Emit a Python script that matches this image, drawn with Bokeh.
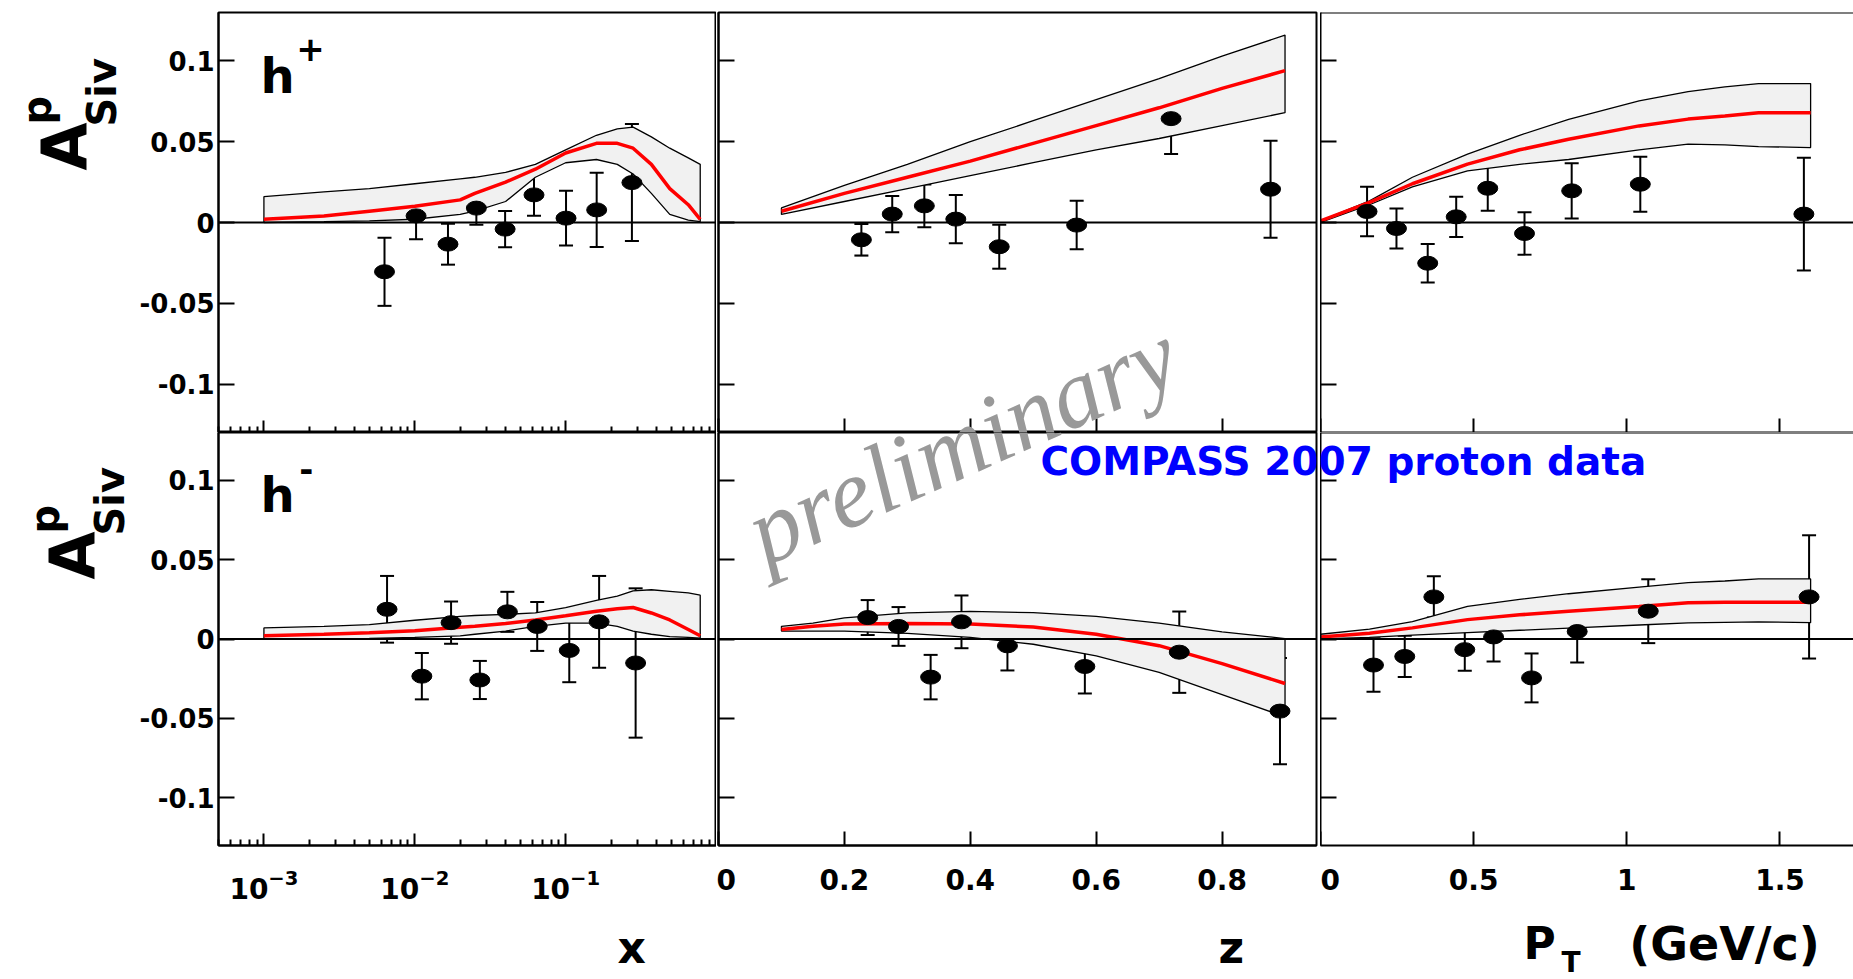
import math

from bokeh.plotting import figure
from bokeh.layouts import column, row
from bokeh.models import (ColumnDataSource, Range1d, FixedTicker, Span, Label,
                          Whisker, TeeHead, CustomJSTickFormatter)
from bokeh.embed import file_html
from bokeh.resources import INLINE

# ---------------------------------------------------------------------------
# Sivers asymmetry on a proton target, COMPASS 2007 (preliminary)
# ---------------------------------------------------------------------------

# h+ versus x
hp_x_bin = [0.0063, 0.0102, 0.0166, 0.0256, 0.0397, 0.0617, 0.1006, 0.1606, 0.275]
hp_x_asym = [-0.0305, 0.0041, -0.0134, 0.0089, -0.0041, 0.0171, 0.0027, 0.0078, 0.0247]
hp_x_err = [0.0211, 0.0144, 0.0127, 0.0103, 0.0112, 0.0129, 0.0170, 0.0230, 0.0362]

# h+ versus z
hp_z_bin = [0.227, 0.276, 0.327, 0.377, 0.446, 0.569, 0.719, 0.877]
hp_z_asym = [-0.0107, 0.0052, 0.0103, 0.0021, -0.0150, -0.0016, 0.0643, 0.0206]
hp_z_err = [0.0098, 0.0112, 0.0132, 0.0150, 0.0136, 0.0150, 0.0219, 0.0300]

# h+ versus PT
hp_pt_bin = [0.152, 0.248, 0.350, 0.443, 0.546, 0.666, 0.820, 1.044, 1.578]
hp_pt_asym = [0.0068, -0.0037, -0.0252, 0.0035, 0.0212, -0.0068, 0.0196, 0.0237, 0.0052]
hp_pt_err = [0.0153, 0.0124, 0.0119, 0.0124, 0.0140, 0.0131, 0.0171, 0.0170, 0.0349]

# h- versus x
hm_x_bin = [0.00655, 0.01114, 0.0174, 0.0270, 0.0411, 0.0648, 0.1057, 0.1667, 0.291]
hm_x_asym = [0.0187, -0.0234, 0.0103, -0.0258, 0.0171, 0.0079, -0.0072, 0.0108, -0.0151]
hm_x_err = [0.0210, 0.0146, 0.0133, 0.0120, 0.0126, 0.0154, 0.0200, 0.0289, 0.0470]

# h- versus z
hm_z_bin = [0.237, 0.286, 0.337, 0.386, 0.459, 0.582, 0.732, 0.892]
hm_z_asym = [0.0135, 0.0079, -0.0240, 0.0108, -0.0043, -0.0173, -0.0083, -0.0454]
hm_z_err = [0.0110, 0.0122, 0.0140, 0.0166, 0.0155, 0.0170, 0.0256, 0.0334]

# h- versus PT
hm_pt_bin = [0.173, 0.275, 0.370, 0.471, 0.565, 0.689, 0.838, 1.070, 1.595]
hm_pt_asym = [-0.0164, -0.0110, 0.0265, -0.0067, 0.0013, -0.0245, 0.0047, 0.0175, 0.0265]
hm_pt_err = [0.0168, 0.0130, 0.0130, 0.0133, 0.0154, 0.0154, 0.0195, 0.0201, 0.0388]

# Model predictions: central value and uncertainty band
x_grid = [0.001, 0.0025, 0.005, 0.01, 0.02, 0.025, 0.04, 0.063, 0.1, 0.16,
          0.22, 0.28, 0.37, 0.49, 0.65, 0.78]
hp_x_model = [0.002, 0.004, 0.007, 0.010, 0.014, 0.018, 0.025, 0.033, 0.043, 0.049,
              0.049, 0.046, 0.036, 0.021, 0.011, 0.002]
hp_x_model_hi = [0.016, 0.019, 0.021, 0.024, 0.027, 0.028, 0.031, 0.036, 0.045, 0.054,
                 0.058, 0.059, 0.053, 0.046, 0.040, 0.036]
hp_x_model_lo = [0.0, 0.0005, 0.001, 0.002, 0.005, 0.007, 0.013, 0.028, 0.037, 0.039,
                 0.036, 0.030, 0.018, 0.005, 0.0015, 0.0005]
hm_x_model = [0.002, 0.003, 0.004, 0.0052, 0.0074, 0.008, 0.0097, 0.012, 0.0146, 0.0175,
              0.019, 0.0198, 0.0164, 0.012, 0.006, 0.002]
hm_x_model_hi = [0.007, 0.008, 0.009, 0.0118, 0.0142, 0.0148, 0.0155, 0.0164, 0.0198, 0.0243,
                 0.027, 0.0303, 0.031, 0.030, 0.029, 0.0276]
hm_x_model_lo = [0.0, 0.0, 0.0003, 0.001, 0.002, 0.003, 0.005, 0.008, 0.010, 0.010,
                 0.008, 0.005, 0.003, 0.0015, 0.001, 0.0005]

z_grid = [0.1, 0.2, 0.3, 0.4, 0.5, 0.6, 0.7, 0.8, 0.9]
hp_z_model = [0.007, 0.018, 0.028, 0.038, 0.049, 0.060, 0.071, 0.083, 0.094]
hp_z_model_hi = [0.009, 0.023, 0.036, 0.050, 0.063, 0.076, 0.089, 0.103, 0.116]
hp_z_model_lo = [0.005, 0.013, 0.021, 0.029, 0.037, 0.045, 0.052, 0.060, 0.068]

hm_z_grid = [0.1, 0.15, 0.2, 0.3, 0.4, 0.5, 0.6, 0.7, 0.8, 0.9]
hm_z_model = [0.006, 0.008, 0.0095, 0.0097, 0.0095, 0.0075, 0.003, -0.0042, -0.0155, -0.028]
hm_z_model_hi = [0.008, 0.010, 0.0133, 0.0164, 0.0174, 0.0166, 0.0142, 0.010, 0.0045, 0.0003]
hm_z_model_lo = [0.005, 0.005, 0.005, 0.0036, 0.001, -0.0033, -0.0106, -0.021, -0.035, -0.049]

pt_grid = [0.0, 0.16, 0.3, 0.48, 0.65, 0.81, 1.04, 1.2, 1.32, 1.43, 1.6]
hp_pt_model = [0.001, 0.0124, 0.024, 0.0361, 0.045, 0.0515, 0.0598, 0.064, 0.066, 0.068, 0.068]
hp_pt_model_hi = [0.001, 0.0134, 0.028, 0.0423, 0.054, 0.0639, 0.0753, 0.081, 0.084, 0.086, 0.086]
hp_pt_model_lo = [0.0, 0.011, 0.022, 0.032, 0.036, 0.039, 0.045, 0.0485, 0.048, 0.047, 0.0464]
hm_pt_model = [0.0013, 0.0036, 0.007, 0.0122, 0.0152, 0.0175, 0.0205, 0.0228, 0.0231, 0.0231, 0.0231]
hm_pt_model_hi = [0.003, 0.0062, 0.011, 0.0205, 0.025, 0.0285, 0.0326, 0.0355, 0.0365, 0.0378, 0.0378]
hm_pt_model_lo = [0.0, 0.001, 0.0025, 0.004, 0.0055, 0.0068, 0.0088, 0.0101, 0.0105, 0.0108, 0.0103]

# Axis ticks
y_ticks = [-0.1, -0.05, 0, 0.05, 0.1]
x_ticks = [0.001, 0.01, 0.1]
x_minor_ticks = [m * 10.0 ** e for e in (-4, -3, -2, -1) for m in range(2, 10)]
z_ticks = [0, 0.2, 0.4, 0.6, 0.8]
pt_ticks = [0, 0.5, 1, 1.5]

# ---------------------------------------------------------------------------
# Page geometry (pixels)
# ---------------------------------------------------------------------------
FONT = "DejaVu Sans"
SERIF = "Liberation Serif"
X_RANGES = {"x": (5e-4, 1.0), "z": (0.0, 0.95), "pt": (0.0, 1.74)}
Y_RANGE = (-0.13, 0.13)
TITLE_W = 136
FRAME_X = {"x": (217, 716), "z": (718, 1316), "pt": (1320, 1853)}
FRAME_Y = {"top": (12, 432), "bottom": (432, 845)}
SIDE_BORDERS = {"x": (217 - TITLE_W, 0), "z": (2, 4), "pt": (0, 0)}
ROW_SPEC = {"top": dict(height=432, top=12, bottom=0),
            "bottom": dict(height=481, top=0, bottom=68)}
STRIP_TOP = 913
PAGE_W, PAGE_H = 1853, 979

# distance from the baseline up to the vertical middle of the em box
MID = {FONT: 0.346, SERIF: 0.3375}

NUMBER_LABELS = "return String(tick);"
NO_LABELS = "return '';"


def page_to_x(var, px):
    a, b = X_RANGES[var]
    x0, x1 = FRAME_X[var]
    f = (px - x0) / (x1 - x0)
    if var == "x":
        return 10 ** (math.log10(a) + f * (math.log10(b) - math.log10(a)))
    return a + f * (b - a)


def page_to_y(rowk, py):
    y0, y1 = FRAME_Y[rowk]
    f = (py - y0) / (y1 - y0)
    return Y_RANGE[1] - f * (Y_RANGE[1] - Y_RANGE[0])


def style_axis(ax, show_labels, size, standoff):
    ax.axis_line_width = 2
    ax.axis_line_color = "black"
    ax.major_tick_line_width = 2
    ax.major_tick_line_color = "black"
    ax.major_tick_out = 0
    ax.minor_tick_line_width = 2
    ax.minor_tick_line_color = "black"
    ax.minor_tick_out = 0
    ax.minor_tick_in = 0
    ax.major_label_text_font = FONT
    ax.major_label_text_font_style = "bold"
    ax.major_label_text_color = "black"
    ax.major_label_text_font_size = size if show_labels else "1px"
    ax.major_label_standoff = standoff if show_labels else 0


def make_panel(var, rowk, bins, asym, err, grid, central, hi, lo):
    spec = ROW_SPEC[rowk]
    bl, br = SIDE_BORDERS[var]
    fx0, fx1 = FRAME_X[var]
    fig = figure(width=bl + (fx1 - fx0) + br, height=spec["height"],
                 x_range=Range1d(*X_RANGES[var]), y_range=Range1d(*Y_RANGE),
                 x_axis_type="log" if var == "x" else "linear",
                 output_backend="svg", toolbar_location=None,
                 min_border_left=bl, min_border_right=br,
                 min_border_top=spec["top"], min_border_bottom=spec["bottom"],
                 background_fill_color="white", border_fill_color="white",
                 outline_line_color="black" if var != "pt" else None,
                 outline_line_width=2)
    fig.grid.visible = False

    xa, ya = fig.xaxis[0], fig.yaxis[0]
    show_y = var == "x"
    style_axis(ya, show_y, "26px", 4)
    ya.ticker = FixedTicker(ticks=y_ticks)
    ya.formatter = CustomJSTickFormatter(code=NUMBER_LABELS if show_y else NO_LABELS)
    ya.major_tick_in = 16

    show_x = rowk == "bottom"
    style_axis(xa, show_x, "28px", 23)
    if var == "x":
        xa.ticker = FixedTicker(ticks=x_ticks, minor_ticks=x_minor_ticks)
        xa.major_tick_in = 12
        xa.minor_tick_in = 6
        if not show_x:
            xa.formatter = CustomJSTickFormatter(code=NO_LABELS)
    else:
        xa.ticker = FixedTicker(ticks=z_ticks if var == "z" else pt_ticks)
        xa.formatter = CustomJSTickFormatter(code=NUMBER_LABELS if show_x else NO_LABELS)
        xa.major_tick_in = 14

    # model uncertainty band and central curve
    fig.patch(x=list(grid) + list(grid)[::-1], y=list(hi) + list(lo)[::-1],
              fill_color="#f1f1f1", line_color="black", line_width=1.3)
    fig.line(x=grid, y=central, line_color="#ff0000", line_width=3.5)

    fig.add_layout(Span(location=0, dimension="width", line_color="black", line_width=2))
    if var == "pt":
        fig.add_layout(Span(location=Y_RANGE[1], dimension="width",
                            line_color="black", line_width=2))

    src = ColumnDataSource(dict(x=bins, y=asym,
                                lower=[a - e for a, e in zip(asym, err)],
                                upper=[a + e for a, e in zip(asym, err)]))
    fig.add_layout(Whisker(source=src, base="x", lower="lower", upper="upper",
                           dimension="height", line_color="black", line_width=2,
                           lower_head=TeeHead(size=14, line_color="black", line_width=2),
                           upper_head=TeeHead(size=14, line_color="black", line_width=2)))
    fig.ellipse(x="x", y="y", width=20, height=14, width_units="screen",
                height_units="screen", source=src, fill_color="black", line_color="black")
    return fig


def add_label(fig, x, y, text, size, color="black", font=FONT, style="bold",
              angle=0.0, align="left"):
    fig.add_layout(Label(x=x, y=y, x_units="data", y_units="data", text=text,
                         text_font=font, text_font_style=style,
                         text_font_size=f"{size}px", text_color=color,
                         angle=angle, text_align=align, text_baseline="middle"))


def baseline_to_mid(px, py, size, font=FONT, angle=0.0):
    """Shift a page-space baseline point to the middle of the text line."""
    d = MID[font] * size
    return px - d * math.sin(angle), py - d * math.cos(angle)


def blank(width, height, x0, x1, ytop, ybottom):
    fig = figure(width=width, height=height, x_range=Range1d(x0, x1),
                 y_range=Range1d(ybottom, ytop), x_axis_location=None,
                 y_axis_location=None, toolbar_location=None, output_backend="svg",
                 min_border=0, outline_line_color=None,
                 background_fill_color="white", border_fill_color="white")
    fig.grid.visible = False
    return fig


tl = make_panel("x", "top", hp_x_bin, hp_x_asym, hp_x_err, x_grid, hp_x_model, hp_x_model_hi, hp_x_model_lo)
tm = make_panel("z", "top", hp_z_bin, hp_z_asym, hp_z_err, z_grid, hp_z_model, hp_z_model_hi, hp_z_model_lo)
tr = make_panel("pt", "top", hp_pt_bin, hp_pt_asym, hp_pt_err, pt_grid, hp_pt_model, hp_pt_model_hi, hp_pt_model_lo)
bl = make_panel("x", "bottom", hm_x_bin, hm_x_asym, hm_x_err, x_grid, hm_x_model, hm_x_model_hi, hm_x_model_lo)
bm = make_panel("z", "bottom", hm_z_bin, hm_z_asym, hm_z_err, hm_z_grid, hm_z_model, hm_z_model_hi, hm_z_model_lo)
br = make_panel("pt", "bottom", hm_pt_bin, hm_pt_asym, hm_pt_err, pt_grid, hm_pt_model, hm_pt_model_hi, hm_pt_model_lo)


def panel_label(fig, var, rowk, px, py_base, text, size, **kw):
    mx, my = baseline_to_mid(px, py_base, size, kw.get("font", FONT), kw.get("angle", 0.0))
    add_label(fig, page_to_x(var, mx), page_to_y(rowk, my), text, size, **kw)


# hadron charge tags
panel_label(tl, "x", "top", 259, 92, "h", 48)
panel_label(tl, "x", "top", 295, 60, "+", 34)
panel_label(bl, "x", "bottom", 259, 511, "h", 48)
panel_label(bl, "x", "bottom", 298, 480, "-", 34)

# experiment tag, spanning the z and PT panels of the lower row
for fig, var in ((bm, "z"), (br, "pt")):
    panel_label(fig, var, "bottom", 1040, 474, "COMPASS 2007 proton data", 39,
                color="#0000ff")

# "preliminary" watermark across both z panels
PRELIM_ANGLE = math.radians(24)
for fig, rowk in ((tm, "top"), (bm, "bottom")):
    panel_label(fig, "z", rowk, 765, 566, "preliminary", 98, color="#999999",
                font=SERIF, style="italic", angle=PRELIM_ANGLE)

# y-axis titles A^p_Siv, placed by the centre line of each rotated piece
ytitle = blank(TITLE_W, STRIP_TOP, 0, TITLE_W, 0, STRIP_TOP)
for dx, y_a, y_s in ((0, 170, 124), (8, 579, 533)):
    add_label(ytitle, 64 + dx, y_a, "A", 62, angle=math.pi / 2)
    add_label(ytitle, 36 + dx, y_s, "p", 40, angle=math.pi / 2)
    add_label(ytitle, 101 + dx, y_s + 2, "Siv", 40, angle=math.pi / 2)

# x-axis titles
strip = blank(PAGE_W, PAGE_H - STRIP_TOP, 0, PAGE_W, STRIP_TOP, PAGE_H)
for px, py, text, size, align in ((617, 962, "x", 44, "left"),
                                  (1218, 962, "z", 44, "left"),
                                  (1523, 958, "P", 44, "left"),
                                  (1561, 972, "T", 28, "left"),
                                  (1724, 959, "(GeV/c)", 46, "center")):
    mx, my = baseline_to_mid(px, py, size)
    add_label(strip, mx, my, text, size, align=align)

panels = column(row(tl, tm, tr), row(bl, bm, br))
layout = column(row(ytitle, panels), strip)

with open("out.html", "w") as f:
    f.write(file_html(layout, INLINE, title="Sivers asymmetry, COMPASS 2007 proton data"))
